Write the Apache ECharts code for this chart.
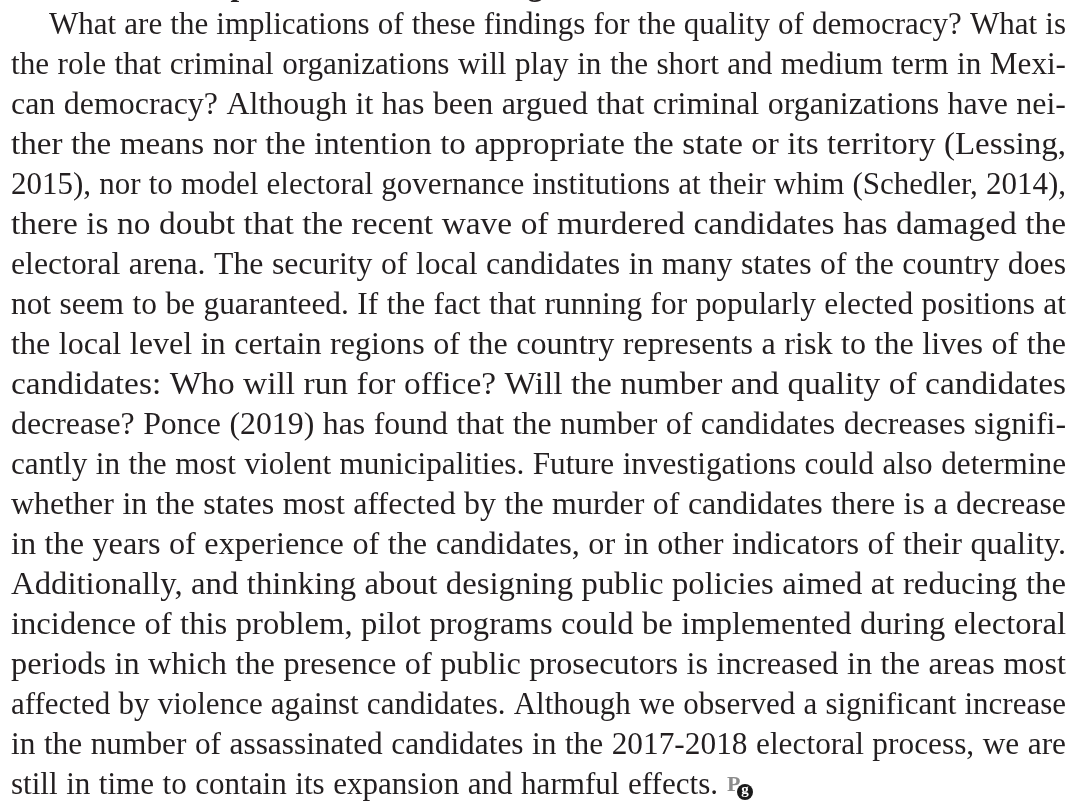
<!DOCTYPE html>
<html>
<head>
<meta charset="utf-8">
<script src="https://cdn.jsdelivr.net/npm/echarts@6/dist/echarts.min.js"></script>
<style>
  html, body { margin: 0; padding: 0; background: #fff; }
  #page { width: 1072px; height: 801px; }
</style>
</head>
<body>
<div id="page"></div>
<script>
// heading of the section, only its descenders show at the top edge
var headingText = "Implications of the findings";

// paragraph lines as set in the page (justified, first line indented)
var paragraphLines = [
  "What are the implications of these findings for the quality of democracy? What is",
  "the role that criminal organizations will play in the short and medium term in Mexi-",
  "can democracy? Although it has been argued that criminal organizations have nei-",
  "ther the means nor the intention to appropriate the state or its territory (Lessing,",
  "2015), nor to model electoral governance institutions at their whim (Schedler, 2014),",
  "there is no doubt that the recent wave of murdered candidates has damaged the",
  "electoral arena. The security of local candidates in many states of the country does",
  "not seem to be guaranteed. If the fact that running for popularly elected positions at",
  "the local level in certain regions of the country represents a risk to the lives of the",
  "candidates: Who will run for office? Will the number and quality of candidates",
  "decrease? Ponce (2019) has found that the number of candidates decreases signifi-",
  "cantly in the most violent municipalities. Future investigations could also determine",
  "whether in the states most affected by the murder of candidates there is a decrease",
  "in the years of experience of the candidates, or in other indicators of their quality.",
  "Additionally, and thinking about designing public policies aimed at reducing the",
  "incidence of this problem, pilot programs could be implemented during electoral",
  "periods in which the presence of public prosecutors is increased in the areas most",
  "affected by violence against candidates. Although we observed a significant increase",
  "in the number of assassinated candidates in the 2017-2018 electoral process, we are",
  "still in time to contain its expansion and harmful effects."
];

var fontSize = 31;
var bodyFont = fontSize + 'px "Liberation Serif"';
var headFont = 'bold ' + fontSize + 'px "Liberation Serif"';
var textColor = "#231f20";
var leftEdge = 11, rightEdge = 1066, indent = 49, lastLineEnd = 718;
var firstBaseline = 35, lineGap = 40;
var wordGap = 8.5;
var middleShift = 9.5; // canvas 'middle' sits this far above the baseline

var measure = document.createElement("canvas").getContext("2d");
function widthOf(str, font) {
  measure.font = font;
  return measure.measureText(str).width;
}

var elements = [];

// heading (bold), sitting above the top edge
var pAt = widthOf("Im", headFont);
elements.push({
  type: "text",
  x: 239 - pAt - widthOf("p", headFont) / 2,
  y: -4 - middleShift,
  silent: true,
  style: { text: headingText, font: headFont, fill: textColor, align: "left", verticalAlign: "middle" }
});

paragraphLines.forEach(function (line, i) {
  var words = line.split(" ");
  var start = i === 0 ? indent : leftEdge;
  var end = i === paragraphLines.length - 1 ? lastLineEnd : rightEdge;
  var baseline = firstBaseline + i * lineGap;
  var widths = words.map(function (w) { return widthOf(w, bodyFont); });
  var total = widths.reduce(function (a, b) { return a + b; }, 0);
  // widen the glyphs a little (the original face is broader), keep a normal word space
  var sx = (end - start - (words.length - 1) * wordGap) / total;
  sx = Math.max(1, Math.min(1.14, sx));
  var gap = (end - start - total * sx) / (words.length - 1);
  var x = start;
  words.forEach(function (w, k) {
    elements.push({
      type: "text",
      x: x,
      y: baseline - middleShift,
      scaleX: sx,
      silent: true,
      style: { text: w, font: bodyFont, fill: textColor, align: "left", verticalAlign: "middle" }
    });
    x += widths[k] * sx + gap;
  });
});

// journal end mark after the last word
var markX = lastLineEnd + 9;
var lastBaseline = firstBaseline + (paragraphLines.length - 1) * lineGap;
elements.push({
  type: "text",
  x: markX,
  y: lastBaseline - 10,
  silent: true,
  style: { text: "P", font: 'bold 22px "Liberation Serif"', fill: "#8c8c8c", align: "left", verticalAlign: "middle" }
});
elements.push({
  type: "circle",
  shape: { cx: markX + 18, cy: lastBaseline - 3, r: 8 },
  silent: true,
  style: { fill: "#1a1a1a" }
});
elements.push({
  type: "text",
  x: markX + 18,
  y: lastBaseline - 5,
  silent: true,
  style: { text: "g", font: 'bold 15px "Liberation Serif"', fill: "#ffffff", align: "center", verticalAlign: "middle" }
});

var chart = echarts.init(document.getElementById("page"), null, { renderer: "canvas" });
chart.setOption({
  backgroundColor: "#ffffff",
  animation: false,
  graphic: { elements: elements }
});
</script>
</body>
</html>
